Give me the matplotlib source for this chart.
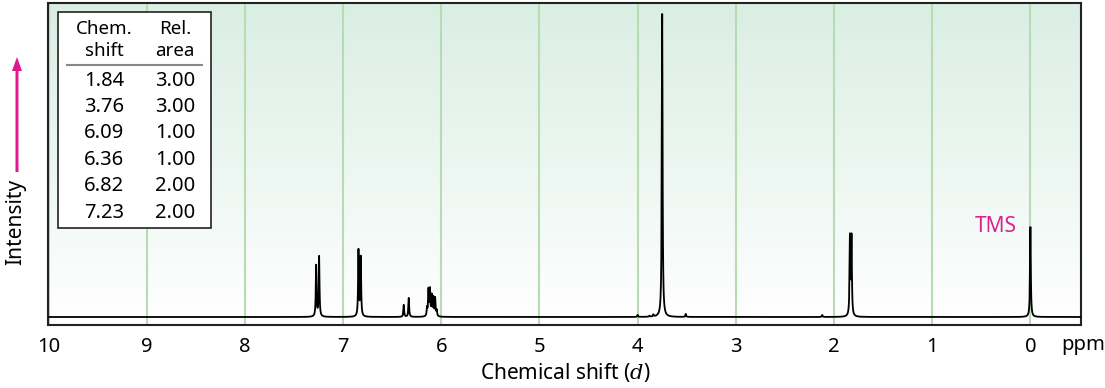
import numpy as np
import matplotlib
matplotlib.use("Agg")
import matplotlib.pyplot as plt
from matplotlib.patches import Rectangle, FancyArrow
from matplotlib.lines import Line2D

plt.rcParams['font.family'] = ['Noto Sans', 'DejaVu Sans']

# ---- data ----
peak_ppm = [7.274, 7.244, 6.843, 6.820, 6.382, 6.331,
            6.145, 6.130, 6.115, 6.097, 6.080, 6.062, 6.046,
            4.00, 3.88, 3.84, 3.750, 3.51, 2.12, 1.838, 1.822, 0.00]
peak_height = [51, 60, 66, 59, 12, 19,
               8, 26, 26, 20, 18, 18, 6,
               2, 1, 2, 303, 3, 2, 78, 78, 90]
table_shift = ["1.84", "3.76", "6.09", "6.36", "6.82", "7.23"]
table_area = ["3.00", "3.00", "1.00", "1.00", "2.00", "2.00"]
tick_values = [10, 9, 8, 7, 6, 5, 4, 3, 2, 1, 0]

W, H = 1105, 388
fig = plt.figure(figsize=(W / 100, H / 100), dpi=100)

def fx(x):
    return x / W

def fy(y):
    return 1 - y / H

ax_l, ax_r, ax_t, ax_b = 48.5, 1081, 3, 325
ax = fig.add_axes([fx(ax_l), fy(ax_b), (ax_r - ax_l) / W, (ax_b - ax_t) / H])

xmin, xmax = 10.0, -0.515
ylo, yhi = -8, 314

# gradient background (top green -> bottom white)
grad = np.linspace(0, 1, 256)[:, None]
top = np.array([218, 238, 228]) / 255
bot = np.array([255, 255, 255]) / 255
img = top[None, None, :] * (1 - grad[..., None]) + bot[None, None, :] * grad[..., None]
img = np.repeat(np.clip(img, 0, 1), 2, axis=1)
ax.imshow(img, extent=[xmin, xmax, ylo, yhi], origin='upper', aspect='auto', zorder=0,
          interpolation='bilinear')

# grid
for t in tick_values:
    ax.axvline(t, color='#b8dcb2', lw=1.5, zorder=0.5)

# spectrum from peak list (Lorentzian lines)
x = np.arange(-0.6, 10.1, 0.0005)
gamma = 0.0045
y = np.zeros_like(x)
for p, h in zip(peak_ppm, peak_height):
    y += h * gamma**2 / ((x - p)**2 + gamma**2)
ax.plot(x, y, color='black', lw=1.3, zorder=3)

ax.set_xlim(xmin, xmax)
ax.set_ylim(ylo, yhi)
ax.set_xticks(tick_values)
ax.set_xticklabels([str(t) for t in tick_values], fontsize=14.5)
ax.set_yticks([])
ax.tick_params(axis='x', length=0, pad=9)
for s in ax.spines.values():
    s.set_color('#222222')
    s.set_linewidth(1.5)

# ppm label
fig.text(fx(1083), fy(345), "ppm", fontsize=14.5, ha='center', va='center')
# x axis label
fig.text(fx(565), fy(373), r"Chemical shift ($d$)", fontsize=15, ha='center', va='center',
         math_fontfamily='dejavuserif')

# TMS label
fig.text(fx(996), fy(227), "TMS", fontsize=15, color='#d9228c', ha='center', va='center')

# Intensity label and arrow
fig.text(fx(16), fy(222), "Intensity", fontsize=15, rotation=90, ha='center', va='center')
arrow = FancyArrow(fx(17), fy(172), 0, fy(57) - fy(172), width=3 / W, head_width=10 / W,
                   head_length=14 / H, length_includes_head=True, color='#e0188c',
                   lw=0, transform=fig.transFigure)
fig.add_artist(arrow)

# table
box = Rectangle((fx(58), fy(228)), (211 - 58) / W, (228 - 12) / H, transform=fig.transFigure,
                facecolor='white', edgecolor='#222222', lw=1.2, zorder=5)
fig.add_artist(box)
col1, col2 = 104, 175
fig.text(fx(col1), fy(29), "Chem.", fontsize=13.5, ha='center', va='center', zorder=6)
fig.text(fx(col1), fy(51), "shift", fontsize=13.5, ha='center', va='center', zorder=6)
fig.text(fx(col2), fy(29), "Rel.", fontsize=13.5, ha='center', va='center', zorder=6)
fig.text(fx(col2), fy(51), "area", fontsize=13.5, ha='center', va='center', zorder=6)
fig.add_artist(Line2D([fx(67), fx(202)], [fy(65), fy(65)], color='#888888', lw=1.5,
                      transform=fig.transFigure, zorder=6))
row_y = [81, 107, 133, 160, 186, 213]
for ry, s, a in zip(row_y, table_shift, table_area):
    fig.text(fx(col1), fy(ry), s, fontsize=14.5, ha='center', va='center', zorder=6)
    fig.text(fx(col2), fy(ry), a, fontsize=14.5, ha='center', va='center', zorder=6)

fig.savefig("out.png", dpi=100)
